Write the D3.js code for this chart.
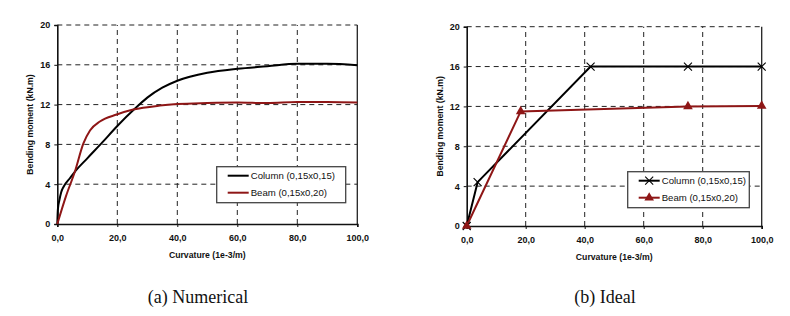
<!DOCTYPE html>
<html lang="en">
  <head>
    <meta charset="utf-8" />
    <script src="https://cdn.jsdelivr.net/npm/d3@7/dist/d3.min.js"></script>
    <style>
      body { margin: 0; background: #fff; }
      .tick text { font-family: "Liberation Sans", Arial, sans-serif; font-weight: bold; font-size: 9px; fill: #111; }
      .title { font-family: "Liberation Sans", Arial, sans-serif; font-weight: bold; font-size: 8.7px; fill: #111; }
      .legend text { font-family: "Liberation Sans", Arial, sans-serif; font-size: 9.6px; fill: #111; }
      .caption { font-family: "Liberation Serif", "Times New Roman", serif; font-size: 18px; fill: #111; }
      .grid line { stroke: #222; stroke-dasharray: 5, 4; stroke-width: 1; }
    </style>
  </head>
  <body>
    <div id="container"></div>
    <script>
      // axis ticks
      const xTicks = [0, 20, 40, 60, 80, 100];
      const yTicks = [0, 4, 8, 12, 16, 20];

      // (a) numerical curves: [curvature 1e-3/m, moment kN.m]
      const numColumn = [
        [0, 0], [0.2, 1.5], [0.7, 2.4], [1.3, 3.2], [2.1, 3.75], [4.2, 4.6], [5.9, 5.27], [10, 6.6],
        [15, 8.2], [20, 9.85], [25.9, 11.6], [30, 12.7], [35, 13.7], [40, 14.4], [50, 15.2], [60, 15.6],
        [70, 15.85], [80, 16.1], [90, 16.1], [100, 15.95]
      ];
      const numBeam = [
        [0, 0], [2.9, 2.8], [5.9, 5.3], [8.7, 8.1], [10.9, 9.4], [14.2, 10.3], [19.8, 11.0],
        [25.3, 11.5], [34.2, 11.9], [40, 12.05], [50, 12.15], [60, 12.2], [70, 12.15],
        [80, 12.25], [90, 12.25], [100, 12.2]
      ];

      // (b) ideal curves
      const idealColumn = [[0, 0], [3.7, 4.4], [42, 16], [75, 16], [100, 16]];
      const idealBeam = [[0, 0], [18.3, 11.5], [75, 12], [100, 12.05]];

      const seriesNames = ["Column (0,15x0,15)", "Beam (0,15x0,20)"];
      const colors = ["#000000", "#8e1616"];

      const width = 790, height = 316;
      const svg = d3.select("#container").append("svg").attr("width", width).attr("height", height);

      function drawPanel(p) {
        const x = d3.scaleLinear().domain([0, 100]).range([p.x0, p.x1]);
        const y = d3.scaleLinear().domain([0, 20]).range([p.y0, p.y1]);
        const g = svg.append("g");

        // grid
        const grid = g.append("g").attr("class", "grid");
        grid.selectAll(".gx").data(xTicks.slice(1, -1)).join("line")
          .attr("x1", d => x(d)).attr("x2", d => x(d)).attr("y1", p.y0).attr("y2", p.y1);
        grid.selectAll(".gy").data(yTicks.slice(1)).join("line")
          .attr("y1", d => y(d)).attr("y2", d => y(d)).attr("x1", p.x0).attr("x2", p.x1);
        g.append("line").attr("x1", p.x1).attr("x2", p.x1).attr("y1", p.y0).attr("y2", p.y1)
          .attr("stroke", "#222").attr("stroke-width", 1.3);

        // axes
        const xa = g.append("g").attr("transform", `translate(0,${p.y0})`)
          .call(d3.axisBottom(x).tickValues(xTicks).tickSize(3).tickPadding(8).tickFormat(d => d3.format(".1f")(d).replace(".", ",")));
        const ya = g.append("g").attr("transform", `translate(${p.x0},0)`)
          .call(d3.axisLeft(y).tickValues(yTicks).tickSize(3).tickPadding(4));
        [xa, ya].forEach(a => {
          a.select(".domain").attr("stroke", "#111").attr("stroke-width", 1.6);
          a.selectAll(".tick line").attr("stroke", "#111");
        });

        g.append("text").attr("class", "title").attr("x", (p.x0 + p.x1) / 2).attr("y", p.y0 + 34)
          .attr("text-anchor", "middle").text("Curvature (1e-3/m)");
        g.append("text").attr("class", "title").attr("text-anchor", "middle")
          .attr("transform", `translate(${p.x0 - 24},${(p.y0 + p.y1) / 2}) rotate(-90)`)
          .text("Bending moment (kN.m)");

        // lines
        const line = d3.line().x(d => x(d[0])).y(d => y(d[1]));
        if (p.smooth) line.curve(d3.curveMonotoneX);
        p.series.forEach((s, i) => {
          g.append("path").datum(s).attr("fill", "none").attr("stroke", colors[i])
            .attr("stroke-width", 2).attr("d", line);
        });

        if (p.markers) {
          g.selectAll(".mx").data(p.series[0]).join("path")
            .attr("transform", d => `translate(${x(d[0])},${y(d[1])})`)
            .attr("d", "M-4,-4L4,4M-4,4L4,-4").attr("stroke", colors[0]).attr("stroke-width", 1.1);
          g.selectAll(".mt").data(p.series[1]).join("path")
            .attr("transform", d => `translate(${x(d[0])},${y(d[1])})`)
            .attr("d", d3.symbol(d3.symbolTriangle, 40)).attr("fill", colors[1]);
        }

        // legend
        const lg = g.append("g").attr("class", "legend").attr("transform", `translate(${p.lx},${p.ly})`);
        lg.append("rect").attr("width", p.lw).attr("height", 36).attr("fill", "#fff")
          .attr("stroke", "#444").attr("stroke-width", 1.3);
        seriesNames.forEach((n, i) => {
          const yy = 9 + i * 17;
          lg.append("line").attr("x1", 11).attr("x2", 32).attr("y1", yy).attr("y2", yy)
            .attr("stroke", colors[i]).attr("stroke-width", 2);
          if (p.markers) {
            if (i === 0) lg.append("path").attr("transform", `translate(21.5,${yy})`)
              .attr("d", "M-4,-4L4,4M-4,4L4,-4").attr("stroke", colors[0]).attr("stroke-width", 1.1);
            else lg.append("path").attr("transform", `translate(21.5,${yy})`)
              .attr("d", d3.symbol(d3.symbolTriangle, 40)).attr("fill", colors[1]);
          }
          lg.append("text").attr("x", 34).attr("y", yy + 3.5).text(n);
        });

        svg.append("text").attr("class", "caption").attr("x", p.cx).attr("y", 303)
          .attr("text-anchor", "middle").text(p.caption);
      }

      drawPanel({
        x0: 57.3, x1: 357.3, y0: 224, y1: 25, series: [numColumn, numBeam], smooth: true,
        markers: false, lx: 216.7, ly: 166.7, lw: 129, cx: 198, caption: "(a) Numerical"
      });
      drawPanel({
        x0: 466.7, x1: 761.7, y0: 226, y1: 26.7, series: [idealColumn, idealBeam], smooth: false,
        markers: true, lx: 627.7, ly: 171.7, lw: 121.6, cx: 605, caption: "(b) Ideal"
      });
    </script>
  </body>
</html>
